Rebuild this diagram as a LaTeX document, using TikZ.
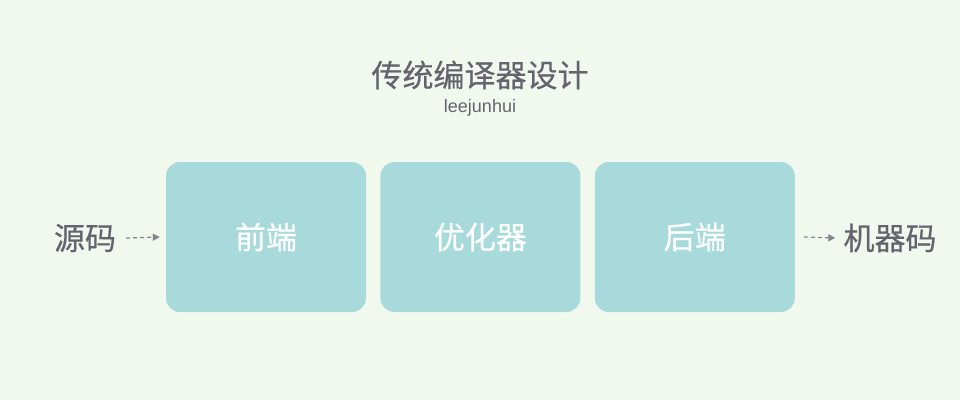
\documentclass[tikz,border=0pt]{standalone}
\usepackage{fontspec}
\setmainfont{Noto Sans CJK SC}[UprightFeatures={FakeBold=0.5}]
\newfontfamily\latinfont{Liberation Sans}
\usetikzlibrary{positioning,arrows.meta}
\definecolor{bgcol}{HTML}{F1F9EF}
\definecolor{boxcol}{HTML}{A8DADB}
\definecolor{textcol}{HTML}{65646E}
\definecolor{arrowcol}{HTML}{85848C}
\tikzset{>={Triangle[length=7pt,width=7pt]}}

\begin{document}
\begin{tikzpicture}[x=1pt, y=-1pt,
    stage/.style={fill=boxcol, rounded corners=14pt, minimum width=200pt, minimum height=150pt,
        text=white, font=\fontsize{31}{35}\selectfont, inner sep=0pt},
    label/.style={text=textcol, font=\fontsize{31}{35}\selectfont, inner sep=0pt},
    flow/.style={->, arrowcol, dash pattern=on 4pt off 3pt, line width=1.2pt}]
    \fill[bgcol] (0,0) rectangle (960,400);
    \useasboundingbox (0,0) rectangle (960,400);
    % Title
    \node (Title) [text=textcol, font=\fontsize{31}{35}\selectfont] at (480,75) {传统编译器设计};
    \node (Author) [text=textcol, font=\latinfont\fontsize{18}{20}\selectfont] at (480,108) {leejunhui};
    % Stages
    \node (Front) [stage] at (266,237) {前端};
    \node (Opt) [stage, right=14pt of Front] {优化器};
    \node (Back) [stage, right=14pt of Opt] {后端};
    % Input and output
    \node (Src) [label] at (85,238) {源码};
    \node (Out) [label] at (890,238) {机器码};

    % Arrows
    \draw[flow] ([xshift=10pt]Src.east) -- ([xshift=-6pt]Front.west);
    \draw[flow] ([xshift=9pt]Back.east) -- ([xshift=-8pt]Out.west);
\end{tikzpicture}
\end{document}
